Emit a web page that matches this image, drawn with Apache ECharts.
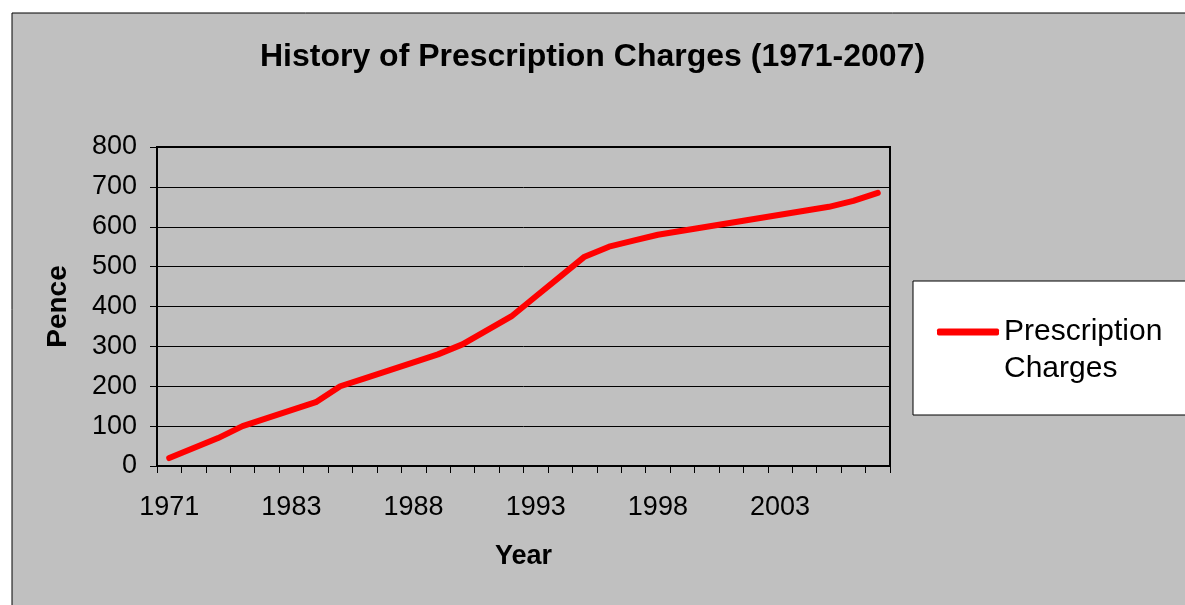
<!DOCTYPE html>
<html>
<head>
<meta charset="utf-8">
<script src="https://cdn.jsdelivr.net/npm/echarts@6/dist/echarts.min.js"></script>
<style>
  html, body { margin: 0; padding: 0; background: #ffffff; }
  #chart { width: 1185px; height: 605px; }
</style>
</head>
<body>
<div id="chart"></div>
<script>
const years = ['1971','1979','1980','1981','1982','1983','1984','1985','1986','1987','1988','1989','1990','1991','1992','1993','1994','1995','1996','1997','1998','1999','2000','2001','2002','2003','2004','2005','2006','2007'];
const charges = [20, 45, 70, 100, 120, 140, 160, 200, 220, 240, 260, 280, 305, 340, 375, 425, 475, 525, 550, 565, 580, 590, 600, 610, 620, 630, 640, 650, 665, 685];
const seriesName = 'Prescription Charges';
const legendLines = ['Prescription', 'Charges'];
const titleText = 'History of Prescription Charges (1971-2007)';

const font = '"Liberation Sans", Arial, sans-serif';
const chart = echarts.init(document.getElementById('chart'), null, { renderer: 'canvas' });
chart.setOption({
  animation: false,
  textStyle: { fontFamily: font },
  title: {
    text: titleText,
    left: 'center',
    top: 36,
    textStyle: { fontFamily: font, fontSize: 32, fontWeight: 'bold', color: '#000' }
  },
  graphic: [
    { type: 'rect', z: -10, shape: { x: 12, y: 13, width: 1200, height: 620 },
      style: { fill: '#c0c0c0', stroke: '#000', lineWidth: 1 } },
    { type: 'rect', z: -5, shape: { x: 913, y: 281, width: 300, height: 134 },
      style: { fill: '#ffffff', stroke: '#000', lineWidth: 1 } }
  ],
  legend: {
    left: 937,
    top: 276.5,
    padding: 0,
    icon: 'roundRect',
    itemWidth: 62,
    itemHeight: 7,
    itemGap: 0,
    formatter: function () { return '\n' + legendLines.join('\n'); },
    textStyle: { fontFamily: font, fontSize: 30, color: '#000', lineHeight: 37 },
    data: [{ name: seriesName, itemStyle: { color: '#ff0000' } }]
  },
  grid: {
    left: 157, top: 147, width: 733, height: 319,
    show: true, borderColor: '#000', borderWidth: 2, backgroundColor: 'transparent'
  },
  xAxis: {
    type: 'category',
    data: years,
    boundaryGap: true,
    name: 'Year',
    nameLocation: 'middle',
    nameGap: 77,
    nameTextStyle: { fontFamily: font, fontSize: 27, fontWeight: 'bold', color: '#000' },
    axisLine: { lineStyle: { color: '#000', width: 2 } },
    axisTick: { show: true, interval: 0, length: 7, lineStyle: { color: '#000', width: 1 } },
    axisLabel: { interval: 4, margin: 28, fontSize: 27, color: '#000', fontFamily: font },
    splitLine: { show: false }
  },
  yAxis: {
    type: 'value',
    min: 0, max: 800, interval: 100,
    name: 'Pence',
    nameLocation: 'middle',
    nameGap: 85,
    nameRotate: 90,
    nameTextStyle: { fontFamily: font, fontSize: 28, fontWeight: 'bold', color: '#000' },
    axisLine: { show: true, lineStyle: { color: '#000', width: 2 } },
    axisTick: { show: true, length: 7, lineStyle: { color: '#000', width: 1 } },
    axisLabel: { margin: 20, fontSize: 27, color: '#000', fontFamily: font },
    splitLine: { show: true, lineStyle: { color: '#000', width: 1 } }
  },
  series: [{
    name: seriesName,
    type: 'line',
    data: charges,
    showSymbol: false,
    symbol: 'none',
    lineStyle: { color: '#ff0000', width: 6, cap: 'round', join: 'round' },
    itemStyle: { color: '#ff0000' }
  }]
});
</script>
</body>
</html>
